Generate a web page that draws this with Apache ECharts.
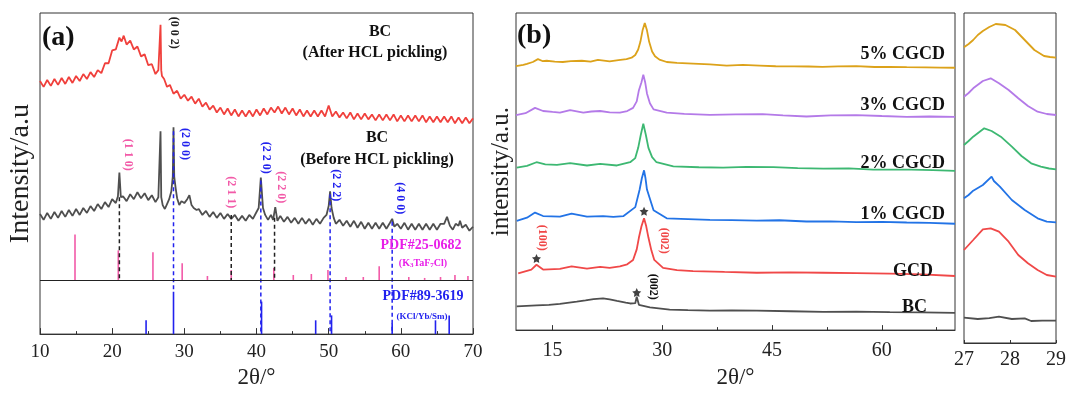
<!DOCTYPE html>
<html>
<head>
<meta charset="utf-8">
<script src="https://cdn.jsdelivr.net/npm/echarts@6/dist/echarts.min.js"></script>
<style>
html, body { margin: 0; padding: 0; background: #fff; }
#chart { width: 1069px; height: 394px; }
</style>
</head>
<body>
<div id="chart"></div>
<script>
const SERIF = "'Liberation Serif', 'DejaVu Serif', serif";

// ---- panel (a): BC before / after HCl pickling ----
const afterHcl = [
  [10,257],[10.5,251],[11,258],[11.5,252],[12,259],[12.5,253],[13,260],[13.5,254],[14,261],[14.5,255],
  [15,262],[15.5,257],[16,264],[16.5,259],[17,266],[17.5,261],[18,268],[18.5,265],[19,275],[19.5,275],
  [20,288],[20.5,289],[21,301],[21.3,297],[21.6,303],[22,294],[22.5,298],[23,289],[23.5,292],[24,282],
  [24.5,284],[25,273],[25.5,274],[26,264],[26.4,268],[26.6,266],[26.7,314],[26.8,268],[26.9,262],[27.2,259],
  [27.6,251],[28,253],[28.5,244],[29,247],[29.5,239],[30,243],[30.5,237],[31,241],[31.5,234],[32,239],
  [32.5,231],[33,235],[33.5,228],[34,232],[34.5,225],[35,230],[35.5,223],[36,229],[36.5,222],[37,228],
  [37.5,221],[38,227],[38.5,221],[39,227],[39.5,221],[40,228],[40.5,222],[41,229],[41.5,223],[42,230],
  [42.5,225],[43,231],[43.5,224],[44,230],[44.5,223],[45,229],[45.5,222],[46,228],[46.5,221],[47,227],
  [47.5,221],[48,227],[48.5,221],[49,227],[49.5,221],[50,232],[50.5,221],[51,226],[51.5,220],[52,225],
  [52.5,219],[53,225],[53.5,218],[54,224],[54.5,218],[55,224],[55.5,218],[56,223],[56.5,217],[57,223],
  [57.5,217],[58,223],[58.5,217],[59,223],[59.5,216],[60,222],[60.5,216],[61,222],[61.5,216],[62,222],
  [62.5,216],[63,222],[63.5,215],[64,221],[64.5,215],[65,221],[65.5,215],[66,221],[66.5,215],[67,221],
  [67.5,214],[68,220],[68.5,214],[69,220],[69.5,214],[70,219]
];
const beforeHcl = [
  [10,122],[10.5,116],[11,123],[11.5,117],[12,124],[12.5,118],[13,125],[13.5,119],[14,126],[14.5,120],
  [15,127],[15.5,121],[16,128],[16.5,123],[17,130],[17.5,125],[18,132],[18.5,127],[19,134],[19.5,129],
  [20,137],[20.5,133],[20.8,140],[21,164],[21.2,139],[21.5,140],[22,135],[22.5,142],[23,137],[23.5,144],
  [24,138],[24.5,143],[25,136],[25.5,141],[26,134],[26.4,139],[26.6,139],[26.7,206],[26.8,139],[27,131],
  [27.3,127],[27.6,132],[27.9,137],[28.2,145],[28.4,160],[28.5,210],[28.6,160],[28.8,148],[29,138],[29.3,131],
  [29.6,135],[30,133],[30.4,137],[30.7,141],[31,131],[31.3,128],[31.7,126],[32,127],[32.5,121],[33,125],
  [33.5,119],[34,124],[34.5,118],[35,123],[35.5,117],[36,122],[36.5,117],[37,121],[37.5,115],[38,120],
  [38.5,115],[39,121],[39.5,117],[40,124],[40.3,128],[40.6,159],[40.9,128],[41.2,121],[41.6,116],[42,121],
  [42.3,116],[42.6,129],[42.9,115],[43.3,120],[43.8,114],[44.3,119],[44.8,113],[45.3,118],[45.8,112],[46.3,118],
  [46.8,112],[47.3,117],[47.8,111],[48.3,117],[48.8,112],[49.3,118],[49.7,121],[50,130],[50.2,145],[50.4,128],
  [50.7,118],[51,112],[51.5,116],[52,110],[52.5,115],[53,109],[53.5,115],[54,108],[54.5,114],[55,107],
  [55.5,113],[56,107],[56.5,113],[57,107],[57.5,113],[58,107],[58.5,113],[58.8,117],[59.1,109],[59.5,112],
  [60,107],[60.5,113],[61,106],[61.5,112],[62,106],[62.5,112],[63,106],[63.5,112],[64,106],[64.5,112],
  [65,106],[65.5,112],[66,112],[66.4,119],[66.8,110],[67.2,106],[67.6,112],[68,110],[68.2,115],[68.5,108],
  [69,111],[69.5,105],[70,109]
];
// reference patterns: [2theta, relative height]
const pdfTaSticks = [
  [14.85,46],[20.85,30],[25.65,28],[29.7,17],[33.2,4],[36.5,10],[42.4,12],[45.1,5],[47.6,6],
  [49.9,10],[52.4,3],[54.8,3],[57.0,14],[61.1,3],[63.3,2],[65.5,3],[67.5,5],[69.3,4]
];
const pdfKclSticks = [
  [24.7,14],[28.5,43],[40.7,33],[48.2,14],[50.4,19],[58.8,11],[64.8,14],[66.7,19]
];
const dividerA = 55;
// guide lines: [2theta, from, to]
const guideBlack = [[21.0,139,55],[36.5,121,55],[42.5,118,55]];
const guideBlue = [[28.5,206,43],[40.6,156,0],[50.2,142,0],[58.8,114,0]];
const hklBlackA = [[28.6,306,'(0 0 2)']];
const hklPinkA = [[22.2,182,'(1 1 0)'],[36.45,144,'(2 1 1)'],[43.4,149,'(2 2 0)']];
const hklBlueA = [[30.1,193,'(2 0 0)'],[41.3,179,'(2 2 0)'],[51.0,151,'(2 2 2)'],[59.9,138,'(4 0 0)']];

// ---- panel (b): stacked patterns ----
const cgcd5 = [
  [10,274.7],[11,276],[11.5,277],[12.3,279],[13,282],[13.6,280],[14.2,280.3],[15.3,279.5],[16.4,279],[17.5,280],
  [19,280.3],[20.2,279.3],[21.2,281.3],[22,280.5],[22.8,279.7],[24,281],[25.1,282],[25.8,283.5],[26.3,286.3],[26.7,292],
  [27,300],[27.3,312],[27.6,319.7],[27.9,312],[28.2,300],[28.6,290],[29,285],[29.6,281.5],[30.6,279],[32,278],
  [34.2,277.3],[36.5,276.5],[38.8,275.3],[41,276],[43.3,275.3],[45.5,274.6],[48,274.5],[50,274.3],[51.9,274],[54,274.5],
  [56.5,274.7],[59,273.8],[61,274],[63.4,273.7],[66,273.5],[68,273.2],[70,273]
];
const cgcd3 = [
  [10,223.7],[11.3,225.7],[12.6,231.3],[13.7,228],[15,227],[16,226.3],[17.4,229],[19.2,226.3],[20.3,227.5],[21.5,228],
  [22.8,226.5],[24.2,226.3],[25.2,228],[26,231.3],[26.5,238],[26.8,249.7],[27.15,258],[27.4,265.7],[27.65,258],[27.9,246.3],
  [28.3,236],[28.8,229.7],[30.6,226.3],[33,225],[36.5,224],[40,224.5],[43.7,224.7],[46.5,223.5],[49.7,222.3],[53,223.5],
  [56.5,223.7],[60,222.8],[63.4,222],[66.5,222.3],[70,222]
];
const cgcd2 = [
  [10.1,169],[11.5,171],[12.8,174.7],[14,172.5],[15.6,172],[17.4,173.7],[19.7,171.3],[21.5,173],[23.8,171.3],[25.6,174.7],
  [26.3,179],[26.7,189.7],[27.05,203],[27.4,214.7],[27.75,203],[28.1,189.7],[28.6,180],[29.2,174.7],[31.5,170.3],[35,169.5],
  [38.3,169],[41.5,169.8],[45.2,169.7],[48.5,168.5],[52,168],[55.5,168.3],[58.8,167],[64,167],[67,166.5],[70,165.7]
];
const cgcd1 = [
  [10.1,113.7],[11.5,117],[12.6,122.3],[13.7,118.7],[16,118],[17.6,121.3],[19.7,118],[21.9,118.7],[23.3,117.8],[24.7,118.7],
  [26.3,128],[26.9,146.3],[27.2,158],[27.5,166.3],[27.7,158],[27.9,146.3],[28.8,124.7],[30.6,116.3],[33.5,115.5],[36.5,114.7],
  [39.5,114.5],[42.9,114],[46,114.3],[49.7,113],[53,113.2],[56.5,112.3],[60,112.6],[63.4,112],[66.5,111.5],[70,110.7]
];
const gcd = [
  [10.3,59],[12.1,63],[12.8,68],[13.7,63],[16,63.7],[17.6,66.3],[19.7,64],[21.5,65.7],[22.8,64.8],[24.2,66.3],
  [25.2,68.5],[26,73],[26.5,84],[26.8,96.3],[27.15,108],[27.5,116.3],[27.8,108],[28.1,96.3],[28.5,83],[28.9,73],
  [30.1,64.7],[32,62.5],[34.2,61.3],[38.5,60.5],[42.9,59.7],[47.5,60],[52,59.7],[56.5,59.2],[61.1,58.7],[65.5,58],[70,56.3]
];
const bc = [
  [10.1,24.7],[12.8,25.7],[14.5,26.2],[16,27.3],[18.3,29.7],[19.5,31],[20.6,32.3],[21.9,33],[22.8,32],[23.8,30.3],
  [25,28.5],[25.6,27.7],[26.3,28],[26.5,34.7],[26.8,26.3],[28.3,23.7],[31,21.3],[33.5,20.8],[36.5,20.3],[39.5,20.5],
  [42.9,20.3],[47.5,19.6],[52,19],[56.5,19.2],[61.1,18.7],[65.5,18.4],[70,18]
];
const starsB = [[12.8,74.5],[27.5,123.7],[26.5,39]];
const hklRedB = [[13.55,96,'(100)'],[30.2,93,'(002)']];
const hklBlackB = [[28.7,45,'(002)']];
const xTicksB = [15, 30, 45, 60];
const xMinorB = [22.5, 37.5, 52.5, 67.5];

// ---- inset: 27-29 degrees ----
const zoom5 = [[27,295.7],[27.1,299],[27.2,303],[27.3,308],[27.41,312],[27.55,316],[27.69,319],[27.8,318.5],[27.9,318],[28.11,313],[28.32,303],[28.53,293],[28.74,287],[28.87,286],[29,285.3]];
const zoom3 = [[27,246.3],[27.1,250],[27.2,254.7],[27.41,262],[27.58,264.7],[27.76,259.7],[27.97,253],[28.18,244.7],[28.39,237],[28.6,231.3],[28.8,229],[29,228]];
const zoom2 = [[27,198],[27.1,202],[27.2,206.3],[27.44,214.7],[27.6,212],[27.8,206.3],[28.04,196.3],[28.25,187],[28.46,179.7],[28.67,176.3],[28.85,174.5],[29,173.7]];
const zoom1 = [[27,144.7],[27.1,148],[27.2,152.3],[27.41,158],[27.6,166.3],[27.65,162],[27.78,156.3],[28.04,143],[28.32,133],[28.6,124.7],[28.8,121.3],[29,120.7]];
const zoomG = [[27,93],[27.1,98],[27.2,103],[27.41,113.7],[27.58,114.7],[27.76,111.3],[27.97,101.3],[28.18,88],[28.39,79.7],[28.6,73],[28.8,68],[29,66.3]];
const zoomBC = [[27,25.3],[27.3,24],[27.55,24.8],[27.76,26.3],[28.04,24],[28.32,24.7],[28.46,22],[28.7,22.4],[29,22.3]];

const COL = {
  red: '#f0403c', gray: '#4f4f4f', pink: '#f25aa8', magenta: '#e81ee8', blue: '#2222ee',
  gold: '#dca21a', purple: '#b47ae8', green: '#3db872', blue2: '#2273e6', red2: '#f04848'
};

function trace(data, color, xi, yi, width) {
  return {
    type: 'line', xAxisIndex: xi, yAxisIndex: yi, data: data,
    showSymbol: false, symbol: 'none', silent: true, animation: false, z: 3,
    lineStyle: { color: color, width: width }
  };
}
function sticks(data, base, color, extra) {
  return Object.assign({
    type: 'custom', xAxisIndex: 0, yAxisIndex: 0, data: data, animation: false, silent: true, z: 2,
    renderItem(params, api) {
      const x = api.value(0);
      const p0 = api.coord([x, base]);
      const p1 = api.coord([x, base + api.value(1)]);
      return { type: 'line', shape: { x1: p0[0], y1: p0[1], x2: p1[0], y2: p1[1] },
        style: { stroke: color, lineWidth: 1.6 } };
    }
  }, extra || {});
}
function guides(data, color) {
  return {
    type: 'custom', xAxisIndex: 0, yAxisIndex: 0, data: data, animation: false, silent: true, z: 4,
    renderItem(params, api) {
      const x = api.value(0);
      const p0 = api.coord([x, api.value(1)]);
      const p1 = api.coord([x, api.value(2)]);
      return { type: 'line', shape: { x1: p0[0], y1: p0[1], x2: p1[0], y2: p1[1] },
        style: { stroke: color, lineWidth: 1.5, lineDash: [4, 3] } };
    }
  };
}
function labels(list, color, xi, yi, size) {
  return {
    type: 'custom', xAxisIndex: xi, yAxisIndex: yi, animation: false, silent: true, z: 5,
    data: list.map(d => [d[0], d[1]]),
    renderItem(params, api) {
      const p = api.coord([api.value(0), api.value(1)]);
      return { type: 'text', x: p[0], y: p[1], rotation: -Math.PI / 2,
        style: { text: list[params.dataIndex][2], fill: color, font: 'bold ' + size + 'px ' + SERIF,
          align: 'center', verticalAlign: 'middle' } };
    }
  };
}
function txt(x, y, text, size, color, align, extra) {
  return { type: 'text', x: x, y: y, silent: true, z: 10,
    style: Object.assign({ text: text, fill: color || '#111', font: 'bold ' + size + 'px ' + SERIF,
      align: align || 'center', verticalAlign: 'middle' }, extra || {}) };
}

const axisCol = '#333';
const gridBox = { show: true, borderColor: axisCol, borderWidth: 1, backgroundColor: 'transparent' };
const hiddenY = {
  type: 'value', axisLine: { show: false }, axisTick: { show: false },
  axisLabel: { show: false }, splitLine: { show: false }
};
const xBase = {
  type: 'value', splitLine: { show: false },
  axisLine: { lineStyle: { color: axisCol } },
  axisTick: { inside: true, length: 6, lineStyle: { color: axisCol } },
  axisLabel: { color: '#222', fontFamily: SERIF, fontSize: 19 },
  nameLocation: 'middle',
  nameTextStyle: { fontFamily: SERIF, fontSize: 23, color: '#222' }
};

const chart = echarts.init(document.getElementById('chart'));
chart.setOption({
  backgroundColor: '#fff',
  animation: false,
  grid: [
    Object.assign({ left: 40, top: 13, width: 433, height: 326 }, gridBox),
    Object.assign({ left: 516, top: 13, width: 439, height: 330 }, gridBox),
    Object.assign({ left: 964, top: 13, width: 95, height: 330 }, gridBox)
  ],
  xAxis: [
    Object.assign({}, xBase, {
      gridIndex: 0, min: 10, max: 70, interval: 10, name: '2θ/°', nameGap: 26,
      minorTick: { show: true, splitNumber: 2, length: 3, lineStyle: { color: axisCol } },
      axisLabel: { color: '#222', fontFamily: SERIF, fontSize: 19, margin: 8 }
    }),
    Object.assign({}, xBase, {
      gridIndex: 1, min: 10, max: 70, name: '2θ/°', nameGap: 30, position: 'bottom',
      axisTick: { inside: true, length: 5, lineStyle: { color: axisCol }, customValues: xTicksB },
      axisLabel: { color: '#222', fontFamily: SERIF, fontSize: 20, margin: 11, customValues: xTicksB }
    }),
    {
      type: 'value', gridIndex: 1, min: 10, max: 70, position: 'bottom', offset: 0,
      axisLine: { show: false }, splitLine: { show: false }, axisLabel: { show: false },
      axisTick: { inside: true, length: 3, lineStyle: { color: axisCol }, customValues: xMinorB }
    },
    Object.assign({}, xBase, {
      gridIndex: 2, min: 27, max: 29, interval: 1,
      axisTick: { inside: true, length: 3, lineStyle: { color: axisCol } },
      axisLabel: { color: '#222', fontFamily: SERIF, fontSize: 20, margin: 7 }
    })
  ],
  yAxis: [
    Object.assign({}, hiddenY, {
      gridIndex: 0, min: 0, max: 326, name: 'Intensity/a.u', nameLocation: 'middle', nameGap: 5,
      nameRotate: 90, nameTextStyle: { fontFamily: SERIF, fontSize: 28, color: '#222' }
    }),
    Object.assign({}, hiddenY, {
      gridIndex: 1, min: 0, max: 330, name: 'intensity/a.u.', nameLocation: 'middle', nameGap: 2,
      nameRotate: 90, nameTextStyle: { fontFamily: SERIF, fontSize: 25, color: '#222' }
    }),
    Object.assign({}, hiddenY, { gridIndex: 2, min: 0, max: 330 })
  ],
  graphic: [
    txt(42, 38, '(a)', 28, '#111', 'left'),
    txt(380, 32, 'BC', 16),
    txt(375, 53, '(After HCL pickling)', 16),
    txt(377, 138, 'BC', 16),
    txt(377, 160, '(Before HCL pickling)', 16),
    txt(421, 245, 'PDF#25-0682', 14, COL.magenta),
    txt(423, 263, '(K{s|3}TaF{s|7}Cl)', 10, COL.magenta, 'center', {
      rich: { s: { fontSize: 7, fontWeight: 'bold', fontFamily: SERIF, fill: COL.magenta, padding: [5, 0, 0, 0] } }
    }),
    txt(423, 296, 'PDF#89-3619', 14, COL.blue),
    txt(422, 317, '(KCl/Yb/Sm)', 9, COL.blue),
    txt(517, 36, '(b)', 28, '#111', 'left'),
    txt(945, 54, '5% CGCD', 18, '#111', 'right'),
    txt(945, 105, '3% CGCD', 18, '#111', 'right'),
    txt(945, 163, '2% CGCD', 18, '#111', 'right'),
    txt(945, 214, '1% CGCD', 18, '#111', 'right'),
    txt(933, 271, 'GCD', 18, '#111', 'right'),
    txt(927, 307, 'BC', 18, '#111', 'right')
  ],
  series: [
    sticks(pdfTaSticks, dividerA, COL.pink),
    sticks(pdfKclSticks, 0, COL.blue, {
      markLine: {
        silent: true, symbol: ['none', 'none'], animation: false, label: { show: false },
        lineStyle: { color: '#222', type: 'solid', width: 1 },
        data: [{ yAxis: dividerA }]
      }
    }),
    trace(afterHcl, COL.red, 0, 0, 1.8),
    trace(beforeHcl, COL.gray, 0, 0, 1.8),
    guides(guideBlack, '#222'),
    guides(guideBlue, COL.blue),
    labels(hklBlackA, '#222', 0, 0, 12),
    labels(hklPinkA, COL.pink, 0, 0, 12),
    labels(hklBlueA, COL.blue, 0, 0, 12),

    trace(cgcd5, COL.gold, 1, 1, 1.8),
    trace(cgcd3, COL.purple, 1, 1, 1.8),
    trace(cgcd2, COL.green, 1, 1, 1.8),
    trace(cgcd1, COL.blue2, 1, 1, 1.8),
    trace(gcd, COL.red2, 1, 1, 1.8),
    trace(bc, COL.gray, 1, 1, 1.8),
    {
      type: 'scatter', xAxisIndex: 1, yAxisIndex: 1, data: starsB, silent: true, animation: false, z: 6,
      symbol: 'path://M0,-10L2.9,-4L9.5,-3.1L4.8,1.5L5.9,8.1L0,5L-5.9,8.1L-4.8,1.5L-9.5,-3.1L-2.9,-4Z',
      symbolSize: 9, itemStyle: { color: '#111' }
    },
    labels(hklRedB, COL.red2, 1, 1, 12),
    labels(hklBlackB, '#111', 1, 1, 12),

    trace(zoom5, COL.gold, 3, 2, 1.8),
    trace(zoom3, COL.purple, 3, 2, 1.8),
    trace(zoom2, COL.green, 3, 2, 1.8),
    trace(zoom1, COL.blue2, 3, 2, 1.8),
    trace(zoomG, COL.red2, 3, 2, 1.8),
    trace(zoomBC, COL.gray, 3, 2, 1.8)
  ]
});
</script>
</body>
</html>
